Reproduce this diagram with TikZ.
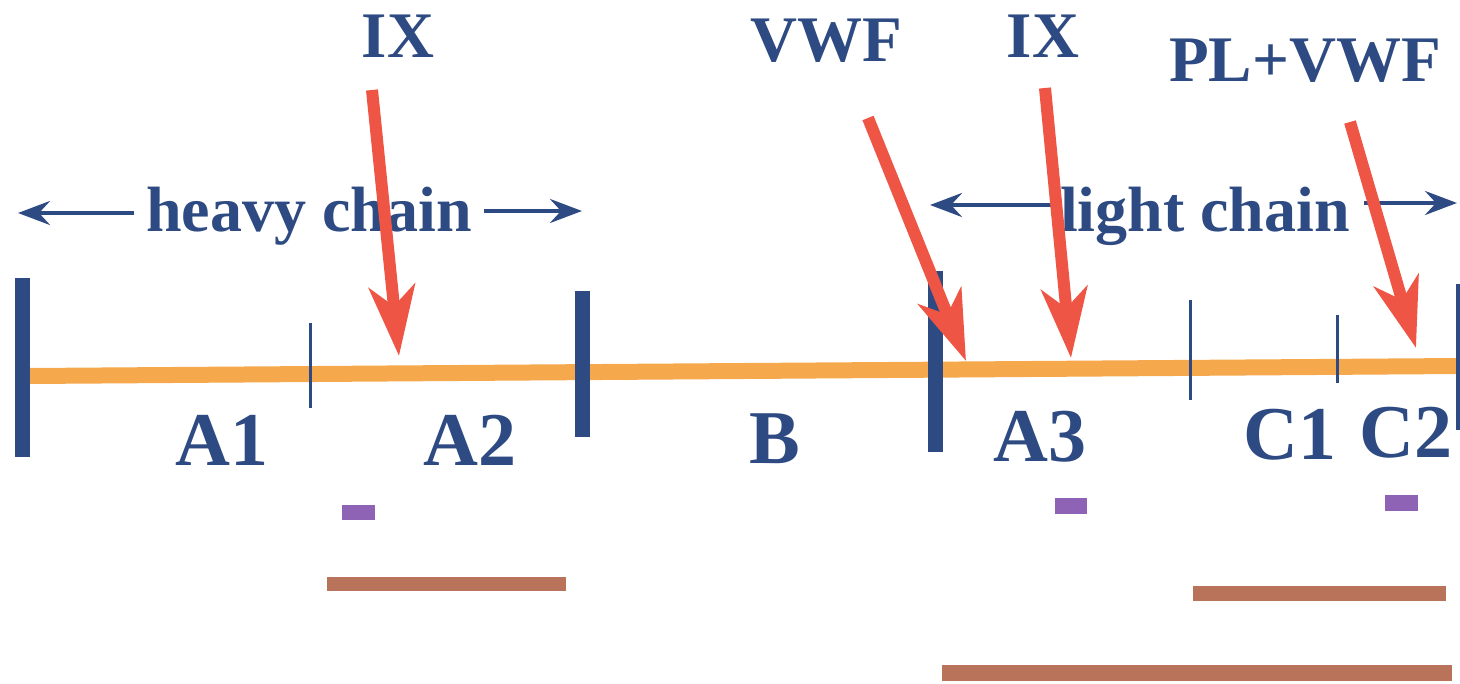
\documentclass[tikz,border=0pt]{standalone}
\usepackage{fontspec}
\setmainfont{Liberation Serif}
\usetikzlibrary{arrows.meta}
\definecolor{dblue}{HTML}{2E4A82}
\definecolor{orng}{HTML}{F6A84C}
\definecolor{redar}{HTML}{EE5545}
\definecolor{purp}{HTML}{8E62B5}
\definecolor{brwn}{HTML}{B9735A}
\tikzset{
  toplabel/.style={anchor=base,text=dblue,font=\bfseries\fontsize{65}{70}\selectfont,inner sep=0pt},
  chainlabel/.style={anchor=base,text=dblue,font=\bfseries\fontsize{64}{70}\selectfont,inner sep=0pt},
  domlabel/.style={anchor=base,text=dblue,font=\bfseries\fontsize{76}{80}\selectfont,inner sep=0pt},
  thickbar/.style={draw=dblue,line width=15pt},
  thinbar/.style={draw=dblue,line width=3pt},
  redarrow/.style={draw=redar,line width=12pt,-{Stealth[length=70pt,width=46pt,inset=20pt]}},
  bluearrow/.style={draw=dblue,line width=4pt,-{Stealth[length=32pt,width=24pt,inset=11pt]}},
  purprect/.style={fill=purp},
  brownbar/.style={fill=brwn},
}
\begin{document}
\begin{tikzpicture}[x=1pt,y=-1pt]
\useasboundingbox (0,0) rectangle (1460,684);
% main orange chain
\coordinate (cl) at (30,376);
\coordinate (cr) at (1460,366);
\draw[orng,line width=16pt] (cl) -- (cr);
% domain boundaries
\draw[thickbar] (22,278) -- (22,457);
\draw[thinbar] (310,323) -- (310,408);
\draw[thickbar] (582,291) -- (582,437);
\draw[thickbar] (935,271) -- (935,452);
\draw[thinbar] (1190,300) -- (1190,400);
\draw[thinbar] (1337,315) -- (1337,383);
\draw[draw=dblue,line width=4pt] (1458,284) -- (1458,430);
% chain labels with arrows
\node[chainlabel] (heavy) at (309,232) {heavy chain};
\node[chainlabel] (light) at (1205,232) {light chain};
\coordinate (hl) at (18,213);
\coordinate (hr) at (582,211);
\coordinate (ll) at (930,205);
\coordinate (lr) at (1457,203);
\draw[bluearrow] (heavy.west |- 0,213) ++(-12,0) -- (hl);
\draw[bluearrow] (heavy.east |- 0,211) ++(12,0) -- (hr);
\draw[bluearrow] (light.west |- 0,205) ++(-8,0) -- (ll);
\draw[bluearrow] (light.east |- 0,203) ++(14,0) -- (lr);
% top labels
\node[toplabel] (ix1) at (398,58) {IX};
\node[toplabel] (vwf) at (826,62) {VWF};
\node[toplabel] (ix2) at (1043,58) {IX};
\node[toplabel] (plvwf) at (1305,82) {PL+VWF};
% red arrows
\coordinate (t1) at (372,90);
\coordinate (h1) at (399,356);
\coordinate (t2) at (868,118);
\coordinate (h2) at (966,361);
\coordinate (t3) at (1045,88);
\coordinate (h3) at (1071,358);
\coordinate (t4) at (1350,122);
\coordinate (h4) at (1416,348);
\draw[redarrow] (t1) -- (h1);
\draw[redarrow] (t2) -- (h2);
\draw[redarrow] (t3) -- (h3);
\draw[redarrow] (t4) -- (h4);
% domain labels
\node[domlabel] (a1) at (222,466) {A1};
\node[domlabel] (a2) at (470,466) {A2};
\node[domlabel] (b) at (775,464) {B};
\node[domlabel] (a3) at (1040,462) {A3};
\node[domlabel] (c1) at (1290,460) {C1};
\node[domlabel] (c2) at (1406,458) {C2};
% purple marks
\fill[purprect] (342,505) rectangle (375,520);
\fill[purprect] (1055,498) rectangle (1087,514);
\fill[purprect] (1385,495) rectangle (1418,511);
% brown bars
\fill[brownbar] (327,577) rectangle (566,591);
\fill[brownbar] (1193,586) rectangle (1446,601);
\fill[brownbar] (942,665) rectangle (1452,681);
\end{tikzpicture}
\end{document}
